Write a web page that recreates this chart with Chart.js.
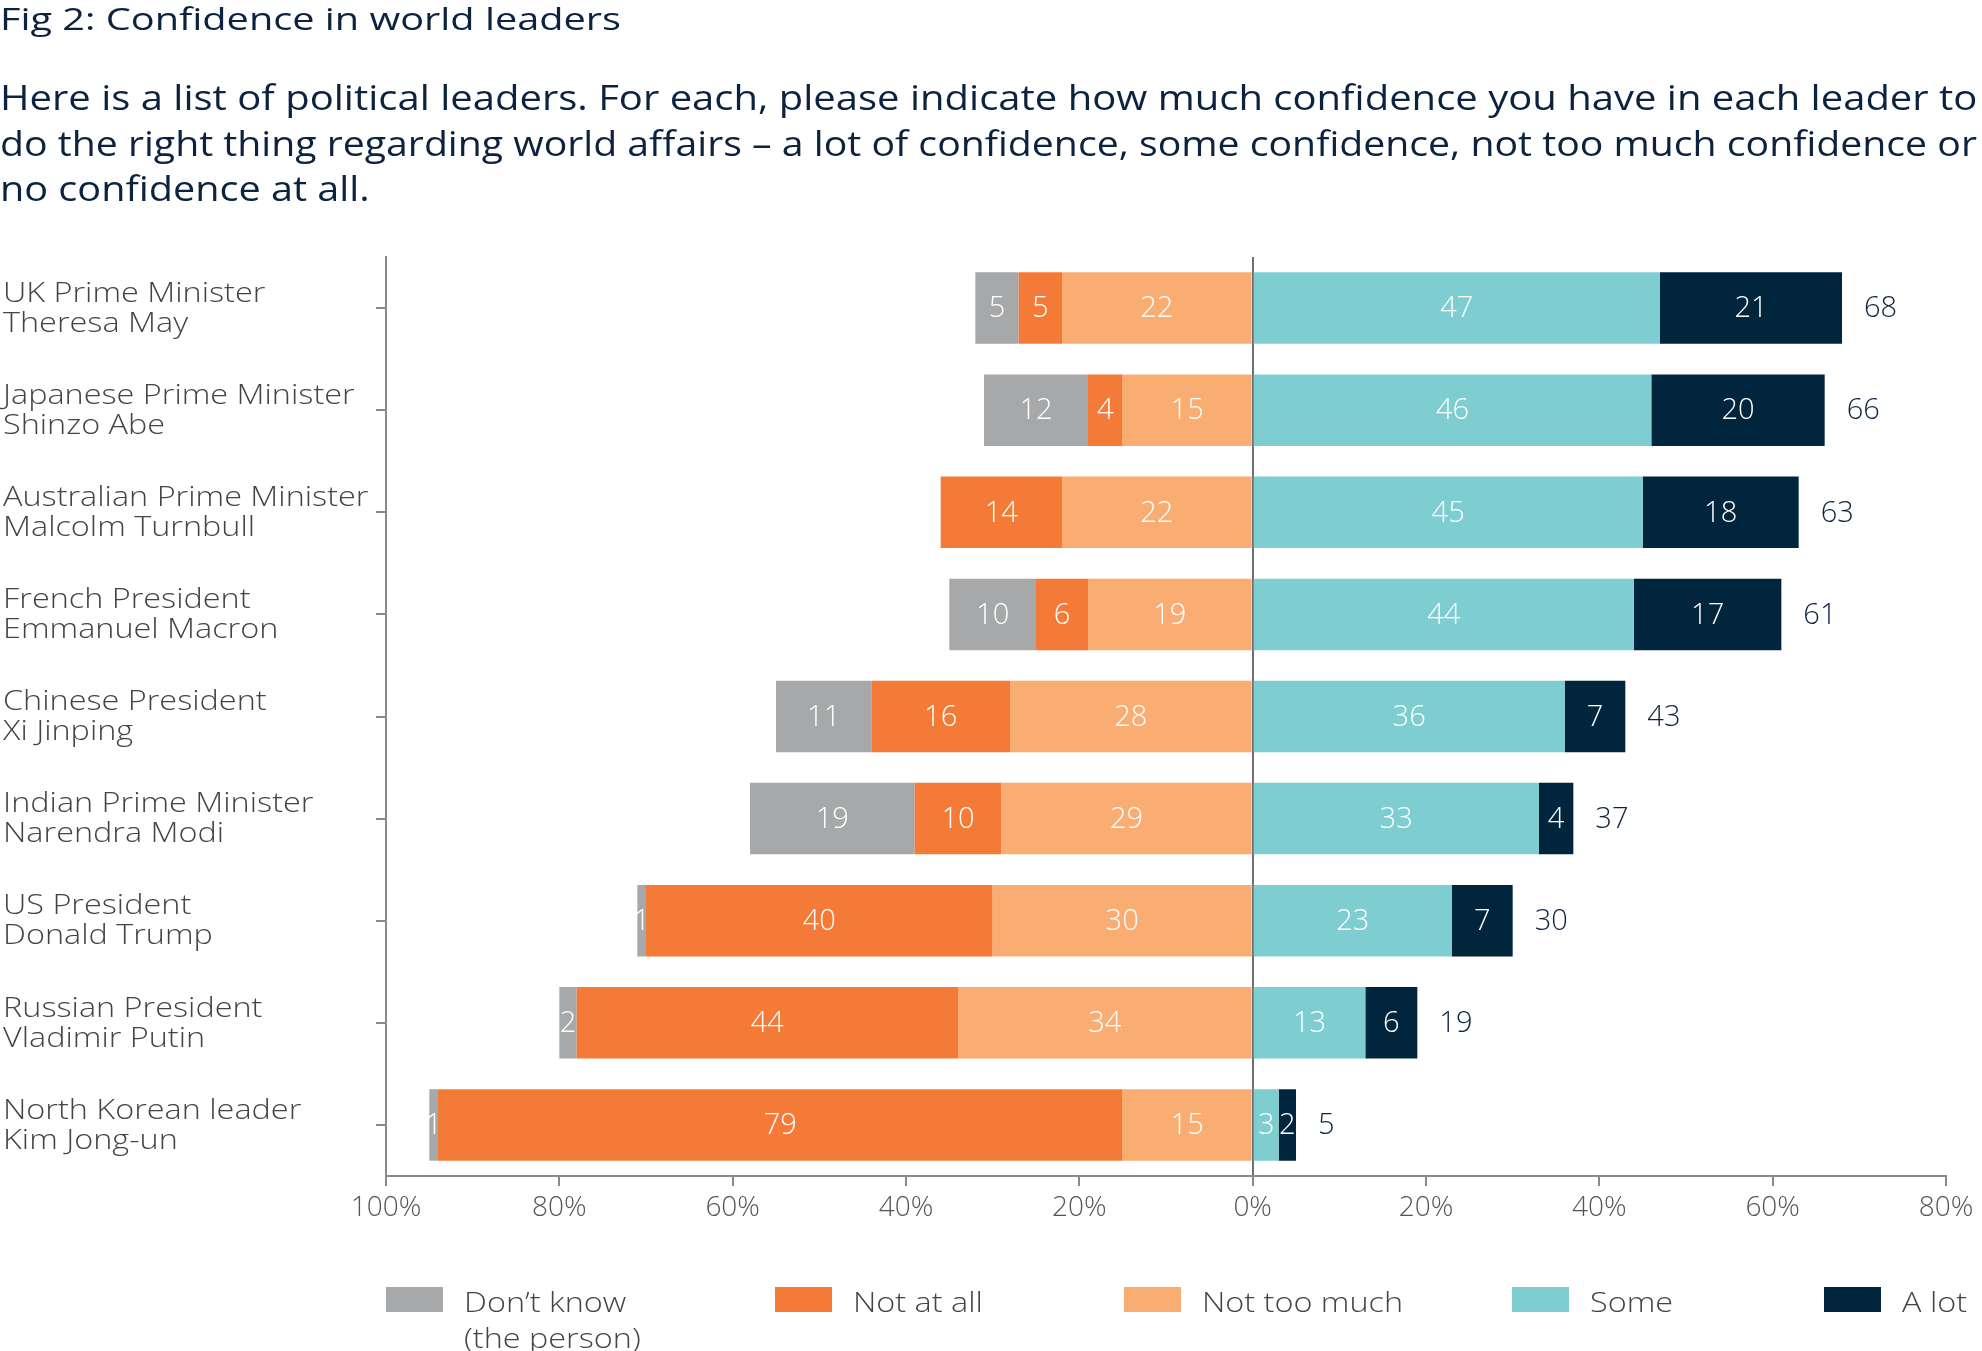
<!DOCTYPE html>
<html lang="en">
<head>
  <meta charset="UTF-8">
  <title>Confidence in world leaders</title>
  <script src="https://cdn.jsdelivr.net/npm/chart.js"></script>
  <style>
    body { margin: 0; width: 1982px; height: 1351px; position: relative; overflow: hidden; background: #fff;
           font-family: 'Open Sans', sans-serif; color: #0c2340; }
    .wide { display: inline-block; transform-origin: 0 50%; white-space: nowrap; }
    #title { position: absolute; left: 0; top: 0; font-size: 31px; line-height: 36px; font-weight: 400; }
    #subtitle { position: absolute; left: 0; top: 74px; font-size: 35px; line-height: 45.5px; font-weight: 400; }
    #subtitle div { height: 45.5px; }
    #wrap { position: absolute; left: 0; top: 0; width: 1982px; height: 1351px; }
    .lg { position: absolute; top: 1284px; font-size: 27px; line-height: 36px; color: #444; font-weight: 300; }
    .lg .sw { position: absolute; top: 3px; left: 0; width: 57px; height: 25px; }
    .lg .tx { position: absolute; left: 78px; white-space: nowrap; transform: scaleX(1.2); transform-origin: 0 0; }
  </style>
</head>
<body>

  <div id="wrap"><canvas id="chart"></canvas></div>
  <div id="title"><span class="wide" style="transform: scaleX(1.28)">Fig 2: Confidence in world leaders</span></div>
  <div id="subtitle">
    <div><span class="wide" style="transform: scaleX(1.143)">Here is a list of political leaders. For each, please indicate how much confidence you have in each leader to</span></div>
    <div><span class="wide" style="transform: scaleX(1.12)">do the right thing regarding world affairs – a lot of confidence, some confidence, not too much confidence or</span></div>
    <div><span class="wide" style="transform: scaleX(1.131)">no confidence at all.</span></div>
  </div>
  <div id="legend"></div>

  <script>
    // data
    const leaders = [
      ['UK Prime Minister', 'Theresa May'],
      ['Japanese Prime Minister', 'Shinzo Abe'],
      ['Australian Prime Minister', 'Malcolm Turnbull'],
      ['French President', 'Emmanuel Macron'],
      ['Chinese President', 'Xi Jinping'],
      ['Indian Prime Minister', 'Narendra Modi'],
      ['US President', 'Donald Trump'],
      ['Russian President', 'Vladimir Putin'],
      ['North Korean leader', 'Kim Jong-un']
    ];
    const dontKnow   = [5, 12, 0, 10, 11, 19, 1, 2, 1];
    const notAtAll   = [5, 4, 14, 6, 16, 10, 40, 44, 79];
    const notTooMuch = [22, 15, 22, 19, 28, 29, 30, 34, 15];
    const some       = [47, 46, 45, 44, 36, 33, 23, 13, 3];
    const aLot       = [21, 20, 18, 17, 7, 4, 7, 6, 2];
    const totals     = [68, 66, 63, 61, 43, 37, 30, 19, 5];
    const xTicks     = [-100, -80, -60, -40, -20, 0, 20, 40, 60, 80];

    const legendNames  = ['Don’t know<br>(the person)', 'Not at all', 'Not too much', 'Some', 'A lot'];
    const legendColors = ['#a6a8a9', '#f47b37', '#f9ad72', '#7ecdd0', '#00253c'];
    const legendLeft   = [386, 775, 1124, 1512, 1824];

    const FONT = '"Open Sans", sans-serif';
    const neg = arr => arr.map(v => -v);

    // white numbers in segments + totals on the right
    const barLabels = {
      id: 'barLabels',
      afterDatasetsDraw(chart) {
        const ctx = chart.ctx;
        ctx.save();
        ctx.font = '300 29px ' + FONT;
        ctx.textAlign = 'center';
        ctx.textBaseline = 'middle';
        ctx.fillStyle = '#fff';
        chart.data.datasets.forEach((ds, i) => {
          chart.getDatasetMeta(i).data.forEach((bar, j) => {
            const v = ds.data[j];
            if (!v) return;
            ctx.fillText(Math.abs(v), (bar.x + bar.base) / 2, bar.y + 1);
          });
        });
        const xs = chart.scales.x;
        ctx.textAlign = 'left';
        ctx.fillStyle = '#0c2340';
        totals.forEach((t, j) => {
          const y = chart.getDatasetMeta(0).data[j].y;
          ctx.fillText(t, xs.getPixelForValue(t) + 22, y + 1);
        });
        ctx.restore();
      }
    };

    // leader names, left aligned, a bit wider like the original typeface
    const leaderLabels = {
      id: 'leaderLabels',
      afterDraw(chart) {
        const ys = chart.scales.y, ctx = chart.ctx;
        ctx.save();
        ctx.font = '300 27px ' + FONT;
        ctx.fillStyle = '#444';
        ctx.textAlign = 'left';
        ctx.textBaseline = 'middle';
        leaders.forEach((lines, i) => {
          const y = ys.getPixelForTick(i);
          lines.forEach((line, k) => {
            ctx.save();
            ctx.translate(3, y + (k - (lines.length - 1) / 2) * 30 + 1);
            ctx.scale(1.2, 1);
            ctx.fillText(line, 0, 0);
            ctx.restore();
          });
        });
        ctx.restore();
      }
    };

    new Chart(document.getElementById('chart'), {
      type: 'bar',
      data: {
        labels: leaders,
        datasets: [
          { label: 'Not too much', data: neg(notTooMuch), backgroundColor: legendColors[2] },
          { label: 'Not at all', data: neg(notAtAll), backgroundColor: legendColors[1] },
          { label: 'Don’t know (the person)', data: neg(dontKnow), backgroundColor: legendColors[0] },
          { label: 'Some', data: some, backgroundColor: legendColors[3] },
          { label: 'A lot', data: aLot, backgroundColor: legendColors[4] }
        ]
      },
      options: {
        indexAxis: 'y',
        responsive: true,
        maintainAspectRatio: false,
        animation: false,
        categoryPercentage: 0.70,
        barPercentage: 1,
        layout: { padding: { left: 3, right: 36, top: 257, bottom: 117 } },
        plugins: { legend: { display: false }, tooltip: { enabled: false } },
        scales: {
          x: {
            stacked: true,
            min: -100,
            max: 80,
            afterBuildTicks: axis => { axis.ticks = xTicks.map(v => ({ value: v })); },
            afterFit: axis => { axis.height = 58; },
            ticks: {
              callback: v => Math.abs(v) + '%',
              color: '#555',
              font: { family: FONT, size: 28, weight: 300 },
              padding: 5,
              maxRotation: 0
            },
            grid: {
              color: ctx => (ctx.tick && ctx.tick.value === 0) ? '#707070' : 'rgba(0,0,0,0)',
              lineWidth: 2,
              tickColor: '#8a8a8a',
              tickLength: 10
            },
            border: { display: true, color: '#8a8a8a', width: 2 }
          },
          y: {
            stacked: true,
            afterFit: axis => { axis.width = 383; },
            ticks: { display: false },
            grid: {
              drawOnChartArea: false,
              offset: false,
              color: '#8a8a8a',
              lineWidth: 2,
              tickLength: 10
            },
            border: { display: true, color: '#8a8a8a', width: 2 }
          }
        }
      },
      plugins: [barLabels, leaderLabels]
    });

    // legend
    const legendBox = document.getElementById('legend');
    legendNames.forEach((name, i) => {
      const item = document.createElement('div');
      item.className = 'lg';
      item.style.left = legendLeft[i] + 'px';
      item.innerHTML = '<span class="sw" style="background:' + legendColors[i] + '"></span>' +
                       '<span class="tx">' + name + '</span>';
      legendBox.appendChild(item);
    });
  </script>
</body>
</html>
